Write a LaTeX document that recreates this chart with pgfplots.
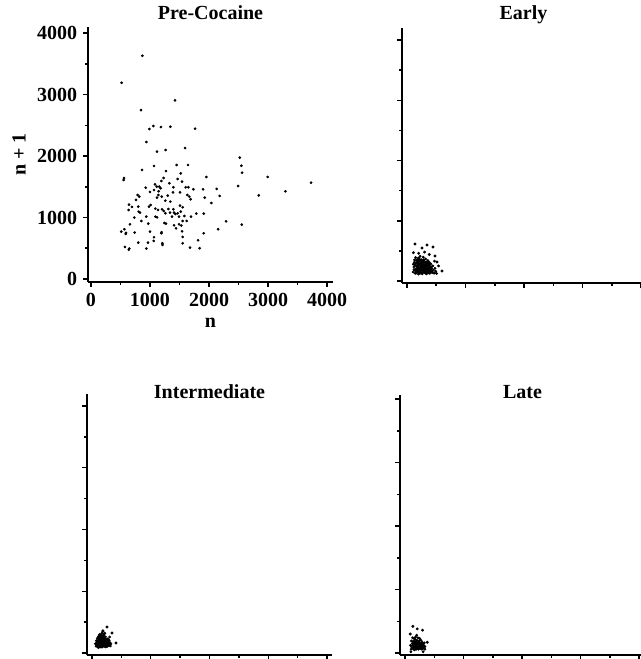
\documentclass[border=0pt]{standalone}
\usepackage{fontspec}
\setmainfont{Liberation Serif}
\usepackage{pgfplots}
\pgfplotsset{compat=1.18}

\pgfplotsset{
  panel/.style={
    scale only axis,
    axis lines=left,
    axis line style={-, line width=1.1pt},
    tick align=outside,
    major tick length=3pt,
    minor tick length=1.8pt,
    every tick/.style={black, line width=0.9pt},
    xtick={0,1000,2000,3000,4000},
    ytick={0,1000,2000,3000,4000},
    minor tick num=1,
    scaled ticks=false,
    /pgf/number format/1000 sep={},
    /pgf/number format/assume math mode=true,
    ticklabel style={font=\fontsize{12}{12}\selectfont\bfseries},
    label style={font=\fontsize{12}{12}\selectfont\bfseries},
    every axis title/.style={at={(0.5,1)}, anchor=center,
      font=\fontsize{12}{12}\selectfont\bfseries},
    clip=false,
  },
  dots/.style={only marks, mark=*, mark size=0.65pt, black},
  blank/.style={xticklabels={}, yticklabels={}},
}

\begin{document}
\begin{tikzpicture}
\useasboundingbox (0pt,0pt) rectangle (384pt,395.4pt);

% Pre-Cocaine
\begin{axis}[panel, at={(52.8pt,226.2pt)}, anchor=south west,
  width=147pt, height=153pt,
  xmin=-50, xmax=4100, ymin=-50, ymax=4100,
  title={Pre-Cocaine}, title style={yshift=8.4pt},
  xlabel={n}, ylabel={n + 1}]
\addplot[dots, mark size=0.6pt] coordinates {
(870,3632) (520,3193) (1424,2905) (848,2748) (989,2439) (1057,2488) (1186,2472)
(1345,2477) (1763,2445) (938,2228) (1266,2098) (1119,2071) (1594,2130) (2520,1973)
(2548,1843) (2560,1729) (554,1610) (560,1640) (865,1773) (1068,1838) (1452,1854)
(1644,1854) (1520,1718) (1271,1756) (1955,1659) (2994,1659) (3729,1567) (1232,1643)
(1192,1594) (1469,1626) (1543,1583) (1328,1556) (1085,1540) (1113,1502) (1158,1502)
(1181,1475) (927,1485) (1396,1491) (1605,1491) (1650,1491) (1735,1458) (1899,1458)
(2130,1464) (2492,1512) (1068,1447) (1000,1415) (1147,1426) (1509,1409) (1390,1409)
(791,1366) (819,1339) (1141,1366) (1198,1339) (1119,1323) (1300,1355) (1633,1366)
(1667,1339) (1927,1323) (2181,1350) (2842,1361) (3294,1426) (763,1285) (1260,1274)
(1345,1258) (1689,1296) (2040,1236) (644,1209) (1012,1203) (983,1176) (695,1171)
(802,1176) (639,1122) (1091,1144) (1136,1122) (1204,1133) (1232,1106) (1311,1138)
(1396,1133) (1509,1193) (1554,1166) (808,1095) (831,1079) (1339,1079) (1407,1079)
(1430,1057) (1469,1068) (1260,1068) (1520,1095) (1785,1063) (1910,1063) (735,998)
(938,1014) (1091,1014) (1119,1003) (1373,1014) (1492,1014) (1582,1025) (1695,1014)
(853,943) (1554,943) (1622,943) (2288,938) (661,889) (972,900) (1243,911) (1271,900)
(1407,873) (1441,824) (1492,889) (1531,868) (2554,884) (514,770) (565,808) (588,732)
(595,750) (740,754) (1000,770) (1192,743) (1195,760) (1543,775) (1910,743) (2153,808)
(1068,678) (1554,683) (1814,629) (802,591) (966,591) (1063,618) (1209,580) (1212,555)
(1554,580) (576,520) (650,494) (640,475) (938,494) (1678,510) (1842,499)
};
\end{axis}

% Early
\begin{axis}[panel, blank, at={(241.2pt,225.6pt)}, anchor=south west,
  width=145.8pt, height=153pt,
  xmin=-85, xmax=4068, ymin=-33, ymax=4200,
  title={Early}, title style={yshift=7.8pt}]
\addplot[dots] coordinates {
(105,150) (118,232) (126,310) (132,180) (140,265) (147,390) (152,128) (160,205)
(166,345) (171,290) (178,150) (183,240) (190,372) (196,115) (201,198) (207,330)
(212,270) (218,160) (224,410) (229,225) (236,300) (240,138) (246,258) (251,352)
(257,190) (262,120) (268,285) (273,226) (279,395) (284,170) (290,320) (296,245)
(301,140) (307,280) (312,210) (318,365) (323,155) (329,300) (334,235) (340,180)
(346,130) (351,270) (357,340) (362,200) (368,150) (374,255) (380,310) (386,175)
(392,130) (398,225) (405,285) (412,160) (420,205) (430,140) (440,250) (452,180)
(465,130) (478,210) (492,160) (505,125)
(150,300) (165,240) (175,330) (185,170) (195,280) (205,220) (215,360) (225,130)
(235,250) (245,190) (255,310) (265,170) (275,260) (285,350) (295,190) (305,230)
(315,140) (325,270) (335,200) (345,320) (355,250) (365,170) (375,220) (385,290)
(395,160) (110,280) (120,190) (130,350) (140,130) (155,170) (170,200) (180,310)
(190,260) (200,380) (210,140) (220,290) (230,190) (240,340) (250,230) (260,280)
(270,150) (280,330) (290,210) (300,180) (310,250) (320,310) (330,120) (340,240)
(350,190) (360,290) (370,210) (380,130) (390,270) (400,190) (415,230) (425,170)
(137,614) (256,548) (445,564) (342,598) (479,415) (598,166) (513,315) (540,250)
(470,330) (110,470) (200,460) (300,480) (380,440)
};
\end{axis}

% Intermediate
\begin{axis}[panel, blank, at={(52.2pt,2.4pt)}, anchor=south west,
  width=147pt, height=156.6pt,
  xmin=-85, xmax=4085, ymin=-32, ymax=4194,
  title={Intermediate}, title style={yshift=1.5pt}]
\addplot[dots] coordinates {
(60,150) (70,110) (75,200) (80,130) (88,175) (92,240) (98,100) (103,150) (108,210)
(113,270) (118,120) (122,180) (127,230) (131,300) (136,95) (140,150) (145,200)
(150,260) (154,120) (158,175) (163,225) (167,320) (171,140) (175,190) (180,250)
(184,105) (188,160) (193,210) (197,280) (202,130) (206,180) (211,235) (215,110)
(220,160) (224,200) (229,260) (233,140) (238,185) (242,120) (247,220) (251,160)
(256,105) (261,190) (266,140) (271,230) (276,120) (281,175) (286,150) (292,205)
(298,130) (305,170) (312,115) (320,150) (90,120) (110,90) (130,170) (150,110)
(170,95) (190,125) (210,150) (230,100) (250,130) (270,165) (200,300) (185,350)
(160,280) (140,250) (220,320)
(255,421) (340,324) (408,162) (187,360) (300,260)
};
\end{axis}

% Late
\begin{axis}[panel, blank, at={(240pt,2.4pt)}, anchor=south west,
  width=147pt, height=156pt,
  xmin=-85, xmax=4100, ymin=-31, ymax=4063,
  title={Late}, title style={yshift=2pt}]
\addplot[dots] coordinates {
(95,120) (105,60) (110,190) (118,90) (125,150) (130,240) (136,70) (142,120)
(148,180) (153,100) (158,50) (163,150) (168,210) (173,85) (178,130) (183,170)
(188,60) (193,110) (198,150) (203,200) (208,80) (213,130) (218,170) (223,100)
(228,60) (233,140) (238,190) (243,90) (248,125) (253,160) (258,70) (263,110)
(268,150) (273,200) (278,90) (283,130) (288,60) (293,170) (298,110) (305,140)
(312,80) (320,120) (330,160) (340,100) (180,250) (200,280) (160,230) (220,240)
(250,230)
(135,420) (210,380) (300,360) (90,300) (380,170) (340,60) (100,20) (310,20)
};
\end{axis}
\end{tikzpicture}
\end{document}
